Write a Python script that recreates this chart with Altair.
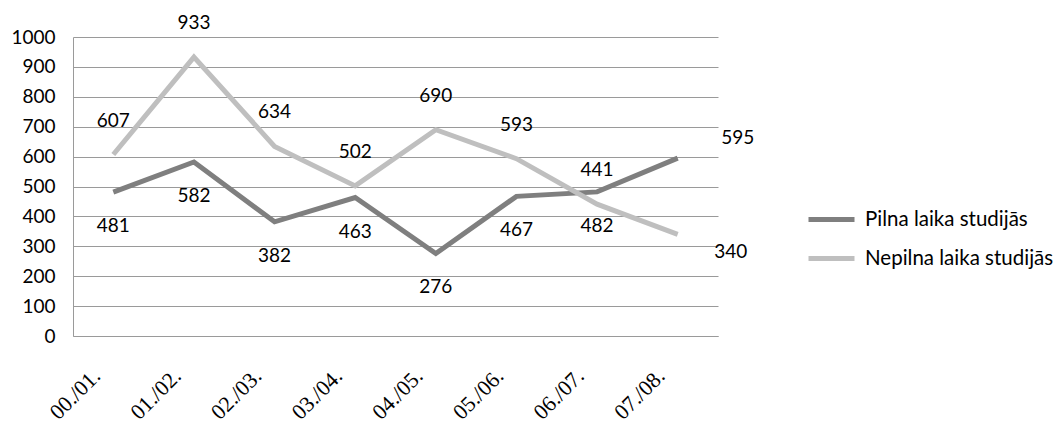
import altair as alt
import pandas as pd

categories = ["00./01.", "01./02.", "02./03.", "03./04.", "04./05.", "05./06.", "06./07.", "07./08."]
series_names = ["Pilna laika studijās", "Nepilna laika studijās"]
pilna = [481, 582, 382, 463, 276, 467, 482, 595]
nepilna = [607, 933, 634, 502, 690, 593, 441, 340]
y_ticks = [0, 100, 200, 300, 400, 500, 600, 700, 800, 900, 1000]
colors = ["#7f7f7f", "#bfbfbf"]

rows = []
for i, c in enumerate(categories):
    rows.append({"cat": c, "series": series_names[0], "value": pilna[i], "idx": i})
    rows.append({"cat": c, "series": series_names[1], "value": nepilna[i], "idx": i})
df = pd.DataFrame(rows)
last = len(categories) - 1

FONT = "Lato"

x_enc = alt.X(
    "cat:N",
    sort=categories,
    scale=alt.Scale(type="point", padding=0.5),
    axis=alt.Axis(
        title=None,
        labelAngle=-45,
        labelFont="Liberation Serif",
        labelFontSize=22,
        labelColor="#000000",
        labelAlign="right",
        labelBaseline="middle",
        labelPadding=36,
        labelOffset=-17,
        labelOverlap=False,
        ticks=False,
        grid=False,
        domainColor="#9a9a9a",
        domainWidth=1,
    ),
)
y_enc = alt.Y(
    "value:Q",
    scale=alt.Scale(domain=[0, 1000], nice=False),
    axis=alt.Axis(
        title=None,
        values=y_ticks,
        format="d",
        labelOverlap=False,
        labelFont=FONT,
        labelFontSize=19,
        labelColor="#000000",
        labelPadding=18,
        ticks=False,
        grid=True,
        gridColor="#9a9a9a",
        gridWidth=1,
        domainColor="#9a9a9a",
        domainWidth=1,
    ),
)

lines = alt.Chart(df).mark_line(strokeWidth=5).encode(
    x=x_enc,
    y=y_enc,
    color=alt.Color(
        "series:N",
        sort=series_names,
        scale=alt.Scale(domain=series_names, range=colors),
        legend=alt.Legend(
            title=None,
            orient="none",
            legendX=733,
            legendY=163,
            symbolType="stroke",
            symbolSize=2116,
            symbolStrokeWidth=5,
            labelFont=FONT,
            labelFontSize=20.5,
            labelColor="#000000",
            labelOffset=8,
            labelLimit=0,
            clipHeight=39,
            rowPadding=0,
        ),
    ),
    detail="series:N",
)

base_text = alt.Chart(df).encode(
    x=x_enc,
    y=y_enc,
    text=alt.Text("value:Q"),
)

def txt(dx, dy):
    return dict(font=FONT, fontSize=19, color="#000000", align="center", baseline="middle", dx=dx, dy=dy)

dark_lbl = base_text.transform_filter(
    (alt.datum.series == series_names[0]) & (alt.datum.idx < last)
).mark_text(**txt(0, 34))
light_lbl = base_text.transform_filter(
    (alt.datum.series == series_names[1]) & (alt.datum.idx < last)
).mark_text(**txt(0, -34))
dark_last = base_text.transform_filter(
    (alt.datum.series == series_names[0]) & (alt.datum.idx == last)
).mark_text(**txt(60, -20))
light_last = base_text.transform_filter(
    (alt.datum.series == series_names[1]) & (alt.datum.idx == last)
).mark_text(**txt(53, 18))

chart = alt.layer(lines, dark_lbl, light_lbl, dark_last, light_last).properties(
    width=645,
    height=299,
    autosize=alt.AutoSizeParams(type="none"),
    padding={"left": 65, "top": 29, "right": 335, "bottom": 86},
).configure(background="#ffffff", view=alt.ViewConfig(stroke=None))

chart.save("out.html", embed_options={"renderer": "svg", "actions": False})
